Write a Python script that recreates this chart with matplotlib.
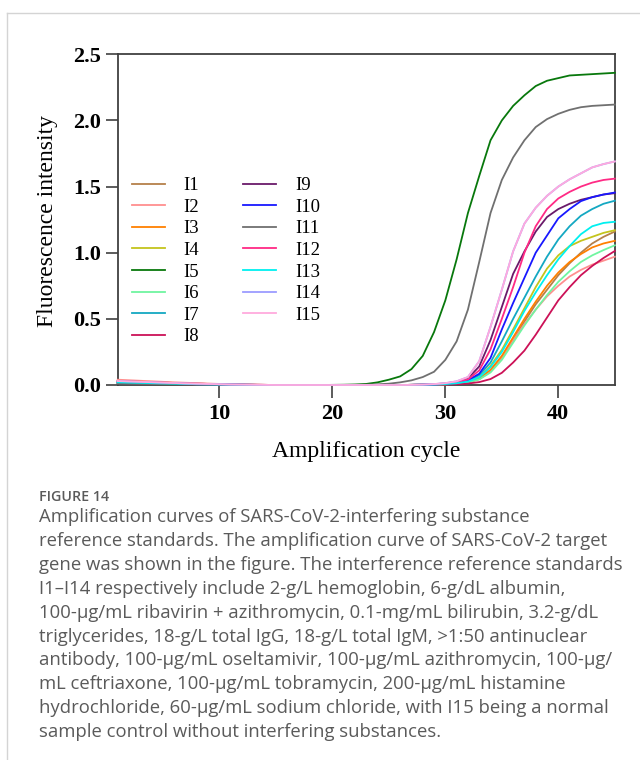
import matplotlib
matplotlib.use("Agg")
import matplotlib.pyplot as plt
from matplotlib.lines import Line2D

# amplification cycles (x axis)
cycles = list(range(1, 46))

# fluorescence, one list per standard (cycles 1-15 / 16-27 / 28-45)
i1 = [0.030, 0.027, 0.024, 0.021, 0.018, 0.015, 0.012, 0.010, 0.008, 0.006, 0.004, 0.003, 0.002, 0.001, 0.000,
      0.000, 0.000, 0.000, 0.000, 0.000, 0.000, 0.000, 0.000, 0.000, 0.000, 0.000, 0.001,
      0.002, 0.003, 0.006, 0.011, 0.022, 0.045, 0.105, 0.210, 0.340, 0.480, 0.610, 0.720, 0.830, 0.920, 1.000, 1.070, 1.120, 1.160]
i2 = [0.040, 0.036, 0.032, 0.028, 0.024, 0.020, 0.017, 0.014, 0.011, 0.008, 0.006, 0.004, 0.002, 0.001, 0.000,
      0.000, 0.000, 0.000, 0.000, 0.000, 0.000, 0.000, 0.000, 0.000, 0.000, 0.000, 0.001,
      0.002, 0.004, 0.007, 0.012, 0.022, 0.045, 0.105, 0.210, 0.340, 0.460, 0.570, 0.670, 0.750, 0.820, 0.870, 0.910, 0.940, 0.970]
i3 = [0.030, 0.027, 0.024, 0.021, 0.018, 0.015, 0.012, 0.010, 0.008, 0.006, 0.004, 0.003, 0.002, 0.001, 0.000,
      0.000, 0.000, 0.000, 0.000, 0.000, 0.000, 0.000, 0.000, 0.000, 0.000, 0.000, 0.001,
      0.002, 0.003, 0.006, 0.011, 0.022, 0.050, 0.115, 0.220, 0.360, 0.500, 0.630, 0.750, 0.850, 0.930, 0.990, 1.040, 1.070, 1.090]
i4 = [0.020, 0.018, 0.016, 0.014, 0.012, 0.010, 0.008, 0.006, 0.005, 0.004, 0.003, 0.002, 0.001, 0.000, 0.000,
      0.000, 0.000, 0.000, 0.000, 0.000, 0.000, 0.000, 0.000, 0.000, 0.000, 0.000, 0.001,
      0.002, 0.003, 0.007, 0.013, 0.026, 0.060, 0.145, 0.265, 0.420, 0.580, 0.740, 0.880, 0.980, 1.050, 1.090, 1.120, 1.150, 1.170]
i5 = [0.010, 0.009, 0.008, 0.007, 0.006, 0.005, 0.004, 0.003, 0.002, 0.002, 0.001, 0.001, 0.000, 0.000, 0.000,
      0.000, 0.000, 0.000, 0.000, 0.001, 0.002, 0.004, 0.008, 0.020, 0.040, 0.065, 0.120,
      0.220, 0.400, 0.640, 0.950, 1.300, 1.580, 1.850, 2.000, 2.110, 2.190, 2.260, 2.300, 2.320, 2.340, 2.345, 2.350, 2.355, 2.360]
i6 = [0.020, 0.018, 0.016, 0.014, 0.012, 0.010, 0.008, 0.006, 0.005, 0.004, 0.003, 0.002, 0.001, 0.000, 0.000,
      0.000, 0.000, 0.000, 0.000, 0.000, 0.000, 0.000, 0.000, 0.000, 0.000, 0.000, 0.001,
      0.002, 0.003, 0.005, 0.010, 0.020, 0.042, 0.095, 0.190, 0.320, 0.450, 0.570, 0.680, 0.780, 0.860, 0.930, 0.980, 1.020, 1.056]
i7 = [0.020, 0.018, 0.016, 0.014, 0.012, 0.010, 0.008, 0.006, 0.005, 0.004, 0.003, 0.002, 0.001, 0.000, 0.000,
      0.000, 0.000, 0.000, 0.000, 0.000, 0.000, 0.000, 0.000, 0.000, 0.000, 0.000, 0.001,
      0.002, 0.004, 0.008, 0.016, 0.032, 0.075, 0.170, 0.330, 0.500, 0.660, 0.820, 0.970, 1.100, 1.200, 1.280, 1.330, 1.370, 1.393]
i8 = [0.020, 0.018, 0.016, 0.014, 0.012, 0.010, 0.008, 0.006, 0.005, 0.004, 0.003, 0.002, 0.001, 0.000, 0.000,
      0.000, 0.000, 0.000, 0.000, 0.000, 0.000, 0.000, 0.000, 0.000, 0.000, 0.000, 0.000,
      0.001, 0.002, 0.003, 0.006, 0.011, 0.022, 0.045, 0.092, 0.170, 0.260, 0.380, 0.510, 0.640, 0.740, 0.830, 0.900, 0.960, 1.013]
i9 = [0.010, 0.009, 0.008, 0.007, 0.006, 0.005, 0.004, 0.003, 0.002, 0.002, 0.001, 0.001, 0.000, 0.000, 0.000,
      0.000, 0.000, 0.000, 0.000, 0.000, 0.000, 0.000, 0.000, 0.000, 0.000, 0.000, 0.001,
      0.003, 0.006, 0.012, 0.024, 0.050, 0.140, 0.340, 0.590, 0.840, 1.010, 1.160, 1.270, 1.330, 1.370, 1.400, 1.420, 1.440, 1.450]
i10 = [0.020, 0.018, 0.016, 0.014, 0.012, 0.010, 0.008, 0.006, 0.005, 0.004, 0.003, 0.002, 0.001, 0.000, 0.000,
       0.000, 0.000, 0.000, 0.000, 0.000, 0.000, 0.000, 0.000, 0.000, 0.000, 0.000, 0.001,
       0.002, 0.004, 0.009, 0.018, 0.036, 0.085, 0.205, 0.420, 0.620, 0.810, 1.000, 1.130, 1.260, 1.330, 1.390, 1.420, 1.440, 1.455]
i11 = [0.010, 0.009, 0.008, 0.007, 0.006, 0.005, 0.004, 0.003, 0.002, 0.002, 0.001, 0.001, 0.000, 0.000, 0.000,
       0.000, 0.000, 0.000, 0.000, 0.000, 0.000, 0.000, 0.002, 0.005, 0.010, 0.020, 0.035,
       0.060, 0.100, 0.190, 0.330, 0.570, 0.930, 1.300, 1.550, 1.720, 1.850, 1.950, 2.010, 2.050, 2.080, 2.100, 2.110, 2.115, 2.120]
i12 = [0.030, 0.027, 0.024, 0.021, 0.018, 0.015, 0.012, 0.010, 0.008, 0.006, 0.004, 0.003, 0.002, 0.001, 0.000,
       0.000, 0.000, 0.000, 0.000, 0.000, 0.000, 0.000, 0.000, 0.000, 0.000, 0.000, 0.001,
       0.002, 0.005, 0.010, 0.020, 0.042, 0.110, 0.270, 0.500, 0.740, 1.000, 1.200, 1.330, 1.410, 1.460, 1.500, 1.530, 1.550, 1.560]
i13 = [0.020, 0.018, 0.016, 0.014, 0.012, 0.010, 0.008, 0.006, 0.005, 0.004, 0.003, 0.002, 0.001, 0.000, 0.000,
       0.000, 0.000, 0.000, 0.000, 0.000, 0.000, 0.000, 0.000, 0.000, 0.000, 0.000, 0.001,
       0.002, 0.003, 0.007, 0.013, 0.026, 0.058, 0.135, 0.250, 0.400, 0.560, 0.700, 0.830, 0.950, 1.050, 1.140, 1.200, 1.225, 1.234]
i14 = [0.030, 0.027, 0.024, 0.021, 0.018, 0.015, 0.012, 0.010, 0.008, 0.006, 0.004, 0.003, 0.002, 0.001, 0.000,
       0.000, 0.000, 0.000, 0.000, 0.000, 0.000, 0.000, 0.000, 0.000, 0.000, 0.000, 0.001,
       0.003, 0.007, 0.014, 0.028, 0.060, 0.180, 0.440, 0.720, 1.010, 1.220, 1.340, 1.430, 1.500, 1.555, 1.600, 1.645, 1.670, 1.690]
i15 = [0.030, 0.027, 0.024, 0.021, 0.018, 0.015, 0.012, 0.010, 0.008, 0.006, 0.004, 0.003, 0.002, 0.001, 0.000,
       0.000, 0.000, 0.000, 0.000, 0.000, 0.000, 0.000, 0.000, 0.000, 0.000, 0.000, 0.001,
       0.003, 0.007, 0.014, 0.028, 0.060, 0.180, 0.440, 0.720, 1.010, 1.220, 1.340, 1.430, 1.500, 1.555, 1.600, 1.645, 1.670, 1.690]

labels = ["I1", "I2", "I3", "I4", "I5", "I6", "I7", "I8",
          "I9", "I10", "I11", "I12", "I13", "I14", "I15"]
colors = ["#b5804a", "#ff8f8f", "#ff8000", "#c4c41c", "#08780c", "#70f5a0", "#14a8c2", "#cc1157",
          "#6a1a6a", "#1818ff", "#707070", "#ff2a85", "#00f0f0", "#9c9cff", "#ffaadd"]
series = [i1, i2, i3, i4, i5, i6, i7, i8, i9, i10, i11, i12, i13, i14, i15]

yticks = [0.0, 0.5, 1.0, 1.5, 2.0, 2.5]
xticks = [10, 20, 30, 40]

caption_title = "FIGURE 14"
caption_lines = [
    "Amplification curves of SARS-CoV-2-interfering substance",
    "reference standards. The amplification curve of SARS-CoV-2 target",
    "gene was shown in the figure. The interference reference standards",
    "I1\u2013I14 respectively include 2-g/L hemoglobin, 6-g/dL albumin,",
    "100-\u03bcg/mL ribavirin + azithromycin, 0.1-mg/mL bilirubin, 3.2-g/dL",
    "triglycerides, 18-g/L total IgG, 18-g/L total IgM, >1:50 antinuclear",
    "antibody, 100-\u03bcg/mL oseltamivir, 100-\u03bcg/mL azithromycin, 100-\u03bcg/",
    "mL ceftriaxone, 100-\u03bcg/mL tobramycin, 200-\u03bcg/mL histamine",
    "hydrochloride, 60-\u03bcg/mL sodium chloride, with I15 being a normal",
    "sample control without interfering substances.",
]

plt.rcParams["font.family"] = ["Liberation Serif", "DejaVu Serif"]

W, H = 640, 760
fig = plt.figure(figsize=(W / 100, H / 100), dpi=100)

# page frame
fig.add_artist(Line2D([7 / W, 1], [1 - 12.5 / H] * 2, transform=fig.transFigure, color="#d4d4d4", lw=1))
fig.add_artist(Line2D([7 / W] * 2, [0, 1 - 12.5 / H], transform=fig.transFigure, color="#d4d4d4", lw=1))

ax = fig.add_axes([117.7 / W, 1 - 385 / H, 497.1 / W, 330.7 / H])
for vals, lab, col in zip(series, labels, colors):
    ax.plot(cycles, vals, color=col, lw=1.3, label=lab, zorder=3, clip_on=False,
            solid_joinstyle="round")

ax.set_xlim(1, 45)
ax.set_ylim(0, 2.5)
ax.set_xticks(xticks)
ax.set_xticklabels([str(t) for t in xticks])
ax.set_yticks(yticks)
ax.set_yticklabels(["%.1f" % t for t in yticks])
for s in ax.spines.values():
    s.set_color("#404040")
    s.set_linewidth(1.3)
ax.tick_params(direction="out", length=9, width=1.2, color="#404040", labelsize=16, pad=3)
ax.tick_params(axis="x", pad=5)
for t in ax.get_xticklabels() + ax.get_yticklabels():
    t.set_fontweight("bold")

ax.text(-0.142, 0.496, "Fluorescence intensity", transform=ax.transAxes, rotation=90,
        ha="center", va="center", fontsize=17)
ax.text(0.4995, -0.2017, "Amplification cycle", transform=ax.transAxes,
        ha="center", va="center", fontsize=17)

ax.legend(ncol=2, frameon=False, loc="upper left", bbox_to_anchor=(0.029, 0.629),
          fontsize=13.5, handlelength=1.75, handletextpad=1.0, columnspacing=2.35,
          labelspacing=0.24, borderpad=0, borderaxespad=0)

# caption
cap_font = ["Open Sans", "DejaVu Sans"]
fig.text(39 / W, 1 - 497 / H, caption_title, family=cap_font, fontsize=10.3, fontweight="semibold",
         color="#5a5a5a", ha="left", va="center")
for k, line in enumerate(caption_lines):
    fig.text(39 / W, 1 - (517 + 23.9 * k) / H, line, family=cap_font, fontsize=13.3,
             color="#5a5a5a", ha="left", va="center")

fig.savefig("out.png", dpi=100, facecolor="white")
